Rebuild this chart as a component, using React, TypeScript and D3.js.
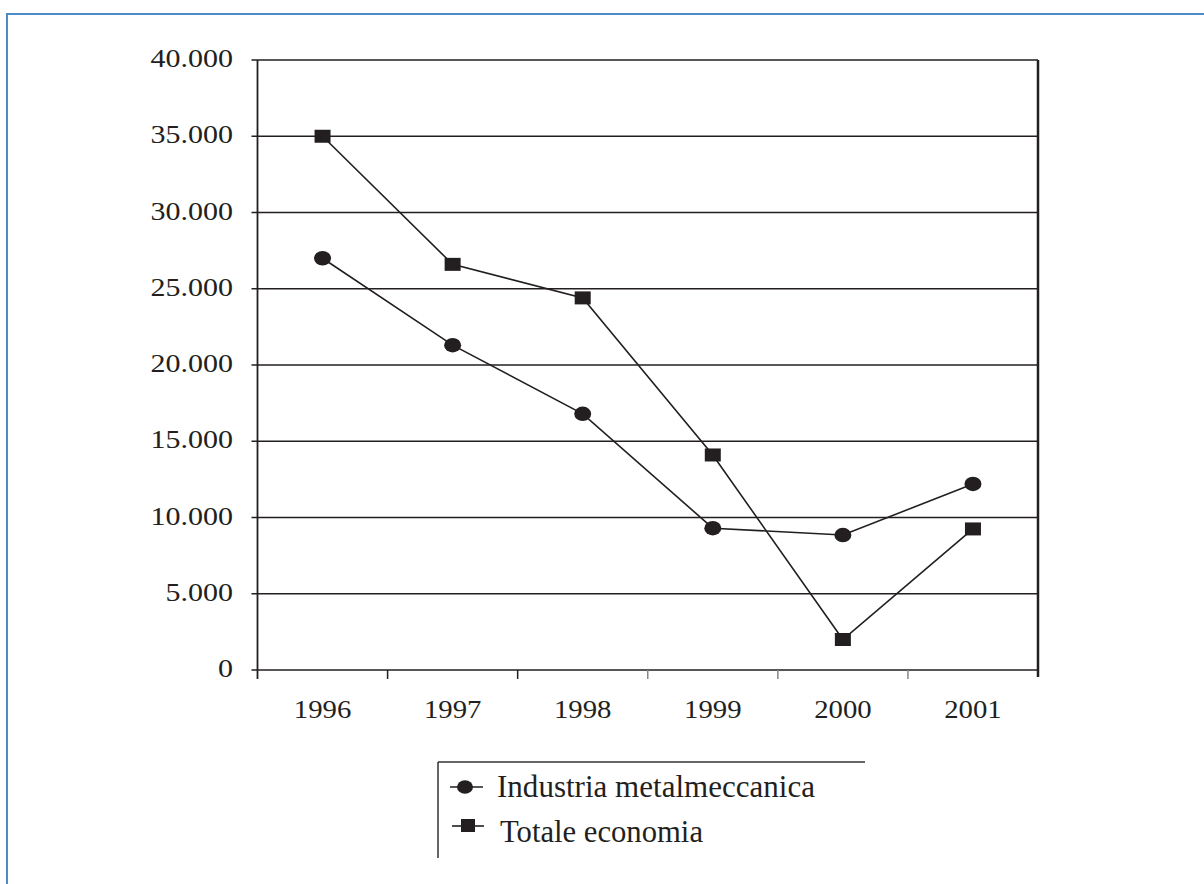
import React from "react";
import * as d3 from "d3";

const years = ["1996", "1997", "1998", "1999", "2000", "2001"];
const industria = [27000, 21300, 16800, 9300, 8850, 12200];
const totale = [35000, 26600, 24400, 14100, 2000, 9250];
const yTicks = [0, 5000, 10000, 15000, 20000, 25000, 30000, 35000, 40000];
const yTickLabels = ["0", "5.000", "10.000", "15.000", "20.000", "25.000", "30.000", "35.000", "40.000"];
const legendLabels = ["Industria metalmeccanica", "Totale economia"];

const W = 1204;
const H = 884;
const left = 257.5;
const right = 1038;
const top = 60;
const bottom = 670;
const font = "'Liberation Serif', 'Times New Roman', serif";
const ink = "#231f20";

export default function App() {
  const x = d3.scaleBand<string>().domain(years).range([left, right]).padding(0);
  const y = d3.scaleLinear().domain([0, 40000]).range([bottom, top]);
  const cx = (d: string) => (x(d) as number) + x.bandwidth() / 2;
  const line = d3
    .line<number>()
    .x((_, i) => cx(years[i]))
    .y((v) => y(v));

  const boundaries = years.map((d) => x(d) as number).concat([right]);

  return (
    <svg
      width={W}
      height={H}
      style={{ position: "absolute", left: 0, top: 0, background: "#fff" }}
      fontFamily={font}
    >
      {/* blue frame */}
      <line x1={7} y1={14} x2={7} y2={H} stroke="#4f8ac8" strokeWidth={2} />
      <line x1={6} y1={14} x2={W} y2={14} stroke="#4f8ac8" strokeWidth={2} />

      {/* gridlines + y ticks */}
      {yTicks.map((t, i) => (
        <g key={t}>
          <line x1={left - 6} x2={right} y1={y(t)} y2={y(t)} stroke={ink} strokeWidth={1.6} />
          <text
            transform={`translate(233,${y(t) + 7}) scale(1.2,1)`}
            textAnchor="end"
            fontSize={25}
            fill={ink}
          >
            {yTickLabels[i]}
          </text>
        </g>
      ))}

      {/* axes */}
      <line x1={left} x2={left} y1={top} y2={bottom + 9} stroke={ink} strokeWidth={1.8} />
      <line x1={right} x2={right} y1={top} y2={bottom + 7} stroke={ink} strokeWidth={2.5} />
      {boundaries.slice(1, -1).map((b, i) => (
        <line key={i} x1={b} x2={b} y1={bottom} y2={bottom + 9} stroke={i >= 2 ? "#888" : ink} strokeWidth={1.5} />
      ))}
      {years.map((d) => (
        <text
          key={d}
          transform={`translate(${cx(d)},718) scale(1.15,1)`}
          textAnchor="middle"
          fontSize={25}
          fill={ink}
        >
          {d}
        </text>
      ))}

      {/* series lines */}
      <path d={line(industria) || ""} fill="none" stroke={ink} strokeWidth={1.6} />
      <path d={line(totale) || ""} fill="none" stroke={ink} strokeWidth={1.6} />
      {industria.map((v, i) => (
        <ellipse key={"i" + i} cx={cx(years[i])} cy={y(v)} rx={8.5} ry={7.3} fill={ink} />
      ))}
      {totale.map((v, i) => (
        <rect key={"t" + i} x={cx(years[i]) - 8} y={y(v) - 6.5} width={16} height={13} fill={ink} />
      ))}

      {/* legend */}
      <line x1={438} x2={865} y1={762} y2={762} stroke="#333" strokeWidth={1.5} />
      <line x1={438} x2={438} y1={762} y2={858} stroke="#333" strokeWidth={1.5} />
      <line x1={450} x2={483} y1={787} y2={787} stroke={ink} strokeWidth={1.6} />
      <ellipse cx={465} cy={787} rx={8} ry={6.8} fill={ink} />
      <text x={497} y={797} fontSize={31} fill={ink} textLength={318} lengthAdjust="spacingAndGlyphs">
        {legendLabels[0]}
      </text>
      <line x1={452} x2={484} y1={826} y2={826} stroke={ink} strokeWidth={1.6} />
      <rect x={461} y={819} width={14} height={13} fill={ink} />
      <text x={500} y={842} fontSize={31} fill={ink} textLength={203} lengthAdjust="spacingAndGlyphs">
        {legendLabels[1]}
      </text>
    </svg>
  );
}
